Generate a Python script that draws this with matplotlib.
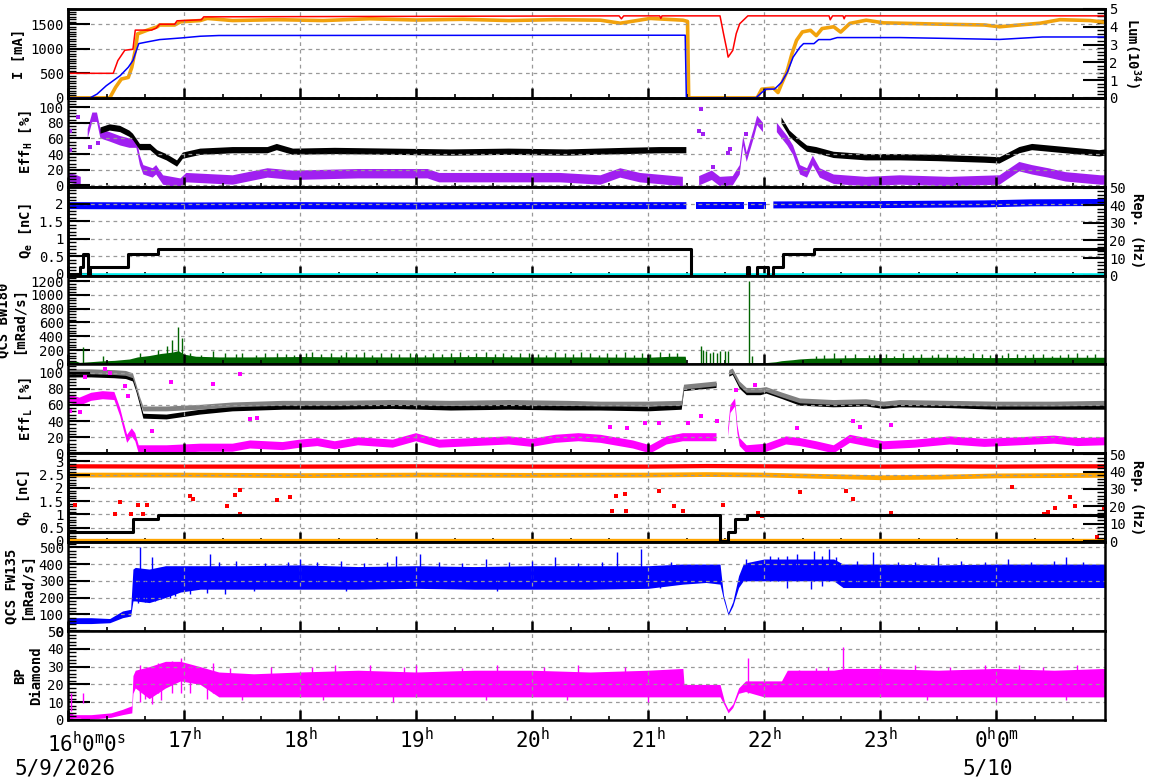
import numpy as np
import matplotlib
matplotlib.use('Agg')
import matplotlib.pyplot as plt
from matplotlib.ticker import MultipleLocator, FormatStrFormatter

plt.rcParams['font.family'] = ['DejaVu Sans Mono']
plt.rcParams['mathtext.fontset'] = 'custom'
plt.rcParams['mathtext.rm'] = 'DejaVu Sans Mono'
plt.rcParams['mathtext.it'] = 'DejaVu Sans Mono'
plt.rcParams['mathtext.bf'] = 'DejaVu Sans Mono:bold'
plt.rcParams['mathtext.default'] = 'rm'

nan = np.nan
T_END = 8.94  # hours after 16:00 on 5/9/2026

# ---- time axis labels
hour_ticks = [0, 1, 2, 3, 4, 5, 6, 7, 8]
hour_labels = ['', '17$^{h}$', '18$^{h}$', '19$^{h}$', '20$^{h}$', '21$^{h}$',
               '22$^{h}$', '23$^{h}$', '0$^{h}$0$^{m}$']

# ---- panel 1: beam currents (mA) and luminosity (1e34)
t_her = [0, 0.39, 0.43, 0.49, 0.56, 0.58, 0.72, 0.76, 0.79, 0.92, 0.94, 1.15, 1.17,
         4.75, 4.77, 4.79, 5.10, 5.11, 5.12, 5.62, 5.65, 5.68, 5.69, 5.73, 5.76, 5.79,
         5.86, 6.56, 6.57, 6.59, 6.68, 6.69, 6.70, 8.94]
i_her = [500, 500, 760, 970, 990, 1380, 1380, 1420, 1500, 1500, 1570, 1590, 1650,
         1670, 1610, 1670, 1670, 1620, 1670, 1670, 1310, 967, 830, 967, 1310, 1510,
         1670, 1670, 1590, 1670, 1670, 1610, 1670, 1670]

t_ler = [0, 0.19, 0.25, 0.33, 0.45, 0.52, 0.56, 0.61, 0.68, 0.79, 0.98, 1.14, 1.30,
         5.32, 5.33, 5.93, 5.98, 6.02, 6.09, 6.15, 6.20, 6.25, 6.31, 6.34, 6.43, 6.47,
         6.57, 6.63, 7.17, 7.6, 8.03, 8.4, 8.94]
i_ler = [0, 0, 76, 247, 453, 624, 761, 1105, 1138, 1187, 1221, 1255, 1270,
         1276, 0, 0, 110, 179, 179, 315, 521, 829, 1035, 1105, 1105, 1187,
         1187, 1228, 1228, 1210, 1190, 1240, 1240]

t_lum = [0, 0.36, 0.41, 0.46, 0.52, 0.55, 0.58, 0.60, 0.68, 0.77, 0.79, 0.92, 0.97,
         1.14, 1.20, 1.42, 1.8, 2.2, 2.6, 3.0, 3.4, 3.8, 4.2, 4.59, 4.76, 5.02, 5.30,
         5.34, 5.35, 5.94, 5.98, 6.08, 6.12, 6.15, 6.20, 6.24, 6.28, 6.33, 6.40, 6.45,
         6.50, 6.60, 6.66, 6.74, 6.88, 7.03, 7.17, 7.5, 7.9, 8.03, 8.2, 8.38, 8.55,
         8.81, 8.94]
lum = [0, 0, 0.59, 1.06, 1.15, 1.72, 2.67, 3.6, 3.8, 4.0, 4.1, 4.1, 4.28,
       4.35, 4.47, 4.35, 4.4, 4.35, 4.45, 4.38, 4.42, 4.35, 4.4, 4.37, 4.2, 4.47, 4.37,
       4.3, 0, 0, 0.49, 0.55, 0.3, 0.78, 1.53, 2.48, 3.24, 3.71, 3.8, 3.5,
       3.9, 4.0, 3.7, 4.19, 4.37, 4.22, 4.2, 4.15, 4.1, 4.0, 4.1, 4.2, 4.4,
       4.35, 4.25]

# ---- panel 2: Eff_H (%)
t_effh_k = [0.28, 0.36, 0.45, 0.53, 0.56, 0.62, 0.71, 0.77, 0.85, 0.94, 0.99, 1.14,
            1.42, 1.72, 1.80, 1.94, 2.3, 2.8, 3.3, 3.8, 4.3, 4.8, 5.1, 5.33, 5.34,
            6.15, 6.22, 6.31, 6.37, 6.45, 6.6, 6.88, 7.17, 7.5, 7.9, 8.03, 8.2, 8.31,
            8.6, 8.89, 8.94]
effh_k = [70, 74, 72, 66, 62, 49, 49, 41, 36, 28, 38, 43,
          45, 45, 49, 43, 44, 43, 42, 43, 42, 44, 45, 45, nan,
          83, 66, 54, 47, 45, 39, 36, 36, 35, 33, 32, 45, 49,
          45, 41, 42]
t_effh_p = [0, 0.06, 0.11, 0.12, 0.17, 0.21, 0.25, 0.28, 0.36, 0.45, 0.53, 0.59,
            0.62, 0.65, 0.73, 0.76, 0.82, 0.97, 1.02, 1.42, 1.72, 1.94, 2.5, 3.1,
            3.2, 3.7, 4.24, 4.59, 4.76, 4.93, 5.3, 5.33, 5.44, 5.55, 5.62, 5.73,
            5.79, 5.82, 5.85, 5.91, 5.94, 5.99, 6.03, 6.11, 6.2, 6.25, 6.31, 6.37,
            6.42, 6.48, 6.6, 6.88, 7.17, 7.6, 8.03, 8.2, 8.31, 8.45, 8.6, 8.9, 8.94]
effh_p = [10, 8, 5, nan, 66, 87, 87, 66, 62, 57, 54, 54,
          32, 20, 16, 20, 7, 3, 10, 7, 16, 13, 15, 15,
          10, 10, 10, 7, 16, 10, 5, nan, 6, 13, 5, 6,
          20, 57, 36, 66, 83, 74, nan, 74, 57, 45, 20, 16,
          32, 16, 8, 5, 7, 5, 7, 24, 20, 16, 11, 7, 7]
t_effh_p_out = [0.09, 0.02, 0.02, 0.19, 0.26, 5.44, 5.46, 5.47, 5.56, 5.69, 5.71, 5.84]
effh_p_out = [87, 70, 45, 49, 54, 70, 98, 66, 24, 41, 47, 66]

# ---- panel 3: Q_e (nC) and rep. rate (Hz)
t_qe = [0, 1.0, 2.0, 3.0, 4.0, 5.0, 5.33, 5.37, 5.41, 5.83, 5.845, 5.86, 6.02,
        6.05, 6.08, 7.0, 7.9, 8.3, 8.94]
qe = [1.95, 1.94, 1.95, 1.94, 1.95, 1.95, 1.95, nan, 1.96, 1.96, nan, 1.96, 1.96,
      nan, 1.97, 1.98, 2.0, 2.03, 2.04]
t_qe_ref = [0, 8.94]
qe_ref = [-0.02, -0.02]
t_rep_e = [0.0, 0.10, 0.13, 0.175, 0.19, 0.52, 0.78, 5.37, 5.85, 5.87, 5.94, 6.03,
           6.08, 6.16, 6.43, 8.94]
rep_e = [1, 5, 12.5, 0, 5, 12.5, 15, 0, 5, 0, 5, 0, 5, 12.5, 15, 15]

# ---- panel 4: QCS BW180 (mRad/s)
t_bw = [0, 0.07, 0.10, 0.19, 0.27, 0.40, 0.53, 0.6, 0.7, 0.8, 0.9, 0.95, 1.0, 1.1,
        1.3, 1.6, 2.0, 2.5, 3.0, 3.5, 4.0, 4.5, 5.0, 5.2, 5.32, 5.33, 5.5, 5.8, 6.0,
        6.1, 6.15, 6.25, 6.3, 6.4, 6.6, 6.8, 7.0, 7.5, 8.0, 8.5, 8.94]
bw = [40, 40, 20, 30, 40, 50, 70, 100, 120, 150, 170, 190, 140, 110,
      100, 100, 105, 100, 100, 105, 100, 100, 95, 110, 110, 5, 10, 10, 15,
      30, 45, 60, 70, 80, 85, 90, 90, 95, 90, 95, 95]
t_bw_spk = [0.13, 0.30, 0.62, 0.78, 0.85, 0.90, 0.95, 0.98, 1.25, 1.5, 1.8, 2.1,
            2.4, 2.7, 3.0, 3.3, 3.6, 3.9, 4.2, 4.5, 4.8, 5.1, 5.46, 5.47, 5.50,
            5.53, 5.56, 5.59, 5.62, 5.66, 5.69, 5.87, 5.90, 6.6, 6.9, 7.2, 7.5,
            7.8, 8.1, 8.4, 8.7]
bw_spk = [240, 110, 150, 200, 260, 350, 540, 380, 180, 160, 150, 170,
          165, 150, 160, 150, 165, 160, 170, 155, 165, 170, 256, 200, 180,
          150, 170, 150, 190, 180, 180, 1200, 120, 150, 130, 150, 140,
          160, 150, 145, 160]
t_bw_grass = [1.05, 1.15, 1.35, 1.45, 1.62, 1.70, 1.88, 1.95, 2.05, 2.18,
              2.27, 2.35, 2.48, 2.55, 2.62, 2.78, 2.85, 2.95, 3.08, 3.15,
              3.22, 3.38, 3.45, 3.52, 3.68, 3.75, 3.82, 3.97, 4.05, 4.12,
              4.28, 4.35, 4.42, 4.58, 4.65, 4.72, 4.88, 4.95, 5.02, 5.18,
              5.25, 6.45, 6.52, 6.70, 6.78, 6.95, 7.05, 7.12, 7.28, 7.35,
              7.45, 7.58, 7.65, 7.72, 7.88, 7.95, 8.05, 8.18, 8.25, 8.32,
              8.48, 8.55, 8.62, 8.78, 8.85]
bw_grass = [150, 135, 160, 140, 130, 155, 145, 135, 160, 140,
            150, 130, 145, 165, 135, 150, 140, 160, 135, 150,
            145, 165, 130, 150, 140, 155, 135, 160, 145, 130,
            150, 140, 165, 135, 150, 145, 130, 160, 140, 155,
            150, 120, 130, 125, 140, 130, 145, 120, 135, 140,
            125, 145, 130, 120, 140, 135, 125, 145, 130, 140,
            120, 135, 145, 130, 140]

# ---- panel 5: Eff_L (%)
t_effl = [0, 0.2, 0.4, 0.50, 0.56, 0.59, 0.62, 0.65, 0.85, 1.14, 1.42, 1.85, 2.3,
          2.8, 3.3, 3.8, 4.3, 4.59, 5.0, 5.29, 5.31, 5.45, 5.59, 5.63, 5.70, 5.73,
          5.79, 5.85, 5.97, 6.02, 6.16, 6.31, 6.6, 6.88, 7.03, 7.17, 7.6, 8.0, 8.5,
          8.94]
effl_k = [97, 97, 96, 95, 92, 79, 63, 46, 45, 51, 55, 57, 57,
          58, 56, 57, 56, 56, 55, 57, 80, 82, 84, nan, 98, 100,
          83, 75, 75, 77, 70, 62, 60, 61, 58, 60, 59, 57, 57, 57]
effl_g = [101, 101, 100, 99, 96, 82, 67, 55, 55, 57, 60, 62, 62,
          63, 62, 63, 62, 61, 61, 62, 82, 84, 86, nan, 100, 102,
          86, 78, 78, 79, 72, 65, 63, 64, 61, 63, 62, 61, 61, 62]
t_effl_m = [0, 0.1, 0.2, 0.3, 0.40, 0.45, 0.48, 0.51, 0.55, 0.58, 0.61, 0.85, 1.14,
            1.42, 1.57, 1.85, 2.0, 2.15, 2.3, 2.5, 2.8, 3.0, 3.2, 3.5, 3.8, 4.0,
            4.2, 4.4, 4.59, 4.87, 5.02, 5.16, 5.3, 5.45, 5.59, 5.62, 5.69, 5.71,
            5.75, 5.77, 5.79, 5.85, 6.02, 6.19, 6.31, 6.45, 6.6, 6.74, 6.88, 7.03,
            7.3, 7.6, 7.9, 8.2, 8.5, 8.7, 8.94]
effl_m = [68, 64, 70, 72, 71, 51, 34, 18, 26, 20, 5, 5, 7,
          7, 11, 9, 12, 14, 10, 15, 12, 20, 12, 14, 16, 13,
          18, 20, 18, 11, 5, 16, 20, 20, 20, nan, 26, 55,
          63, 30, 14, 5, 7, 16, 14, 10, 5, 18, 14, 10,
          12, 16, 13, 15, 17, 14, 15]
t_effl_m_out = [0.02, 0.15, 0.10, 0.32, 0.36, 0.49, 0.52, 0.72, 0.89, 1.25, 1.48,
                1.57, 1.63, 4.67, 4.82, 4.97, 5.09, 5.34, 5.46, 5.59, 5.76, 5.92,
                6.28, 6.77, 6.83, 7.09]
effl_m_out = [53, 94, 51, 104, 100, 83, 71, 28, 88, 86, 98,
              42, 44, 33, 31, 37, 37, 38, 46, 40, 79, 84,
              31, 40, 33, 35]

# ---- panel 6: Q_p (nC) and rep. rate (Hz)
t_qp = [0, 1.0, 2.0, 3.0, 4.0, 5.0, 5.5, 6.0, 6.5, 7.0, 7.5, 8.0, 8.5, 8.94]
qp_1 = [2.83, 2.82, 2.82, 2.83, 2.82, 2.82, 2.84, 2.83, 2.82, 2.82, 2.83, 2.82, 2.83, 2.83]
qp_2 = [2.50, 2.50, 2.48, 2.50, 2.49, 2.50, 2.52, 2.50, 2.45, 2.40, 2.42, 2.47, 2.48, 2.49]
qp_3 = [0.05, 0.05, 0.05, 0.05, 0.05, 0.05, 0.05, 0.05, 0.05, 0.05, 0.05, 0.05, 0.05, 0.05]
t_qp_out = [0.0, 0.06, 0.405, 0.448, 0.54, 0.606, 0.647, 0.678, 1.05, 1.08,
            1.37, 1.44, 1.48, 1.48, 1.8, 1.91, 4.69, 4.72, 4.80, 4.81,
            5.09, 5.22, 5.30, 5.65, 5.95, 5.98, 6.31, 6.71, 6.77, 7.09,
            8.14, 8.41, 8.45, 8.51, 8.64, 8.68, 8.87, 8.93]
qp_out = [1.32, 1.37, 1.0, 1.47, 1.0, 1.35, 1.0, 1.35, 1.69, 1.57,
          1.3, 1.74, 1.92, 1.03, 1.54, 1.65, 1.13, 1.69, 1.75, 1.13,
          1.88, 1.33, 1.13, 1.35, 1.06, 0.95, 1.84, 1.9, 1.58, 1.06,
          2.03, 1.03, 1.09, 1.25, 1.65, 1.32, 0.13, 1.2]
t_rep_p = [0, 0.56, 0.78, 5.62, 5.69, 5.75, 5.85, 8.94]
rep_p = [5, 12.5, 15, 0, 5, 12.5, 15, 15]

# ---- panel 7: QCS FW135 (mRad/s)
t_fw = [0, 0.20, 0.36, 0.47, 0.54, 0.56, 0.58, 0.70, 0.84, 0.97, 1.14, 1.5, 2.0,
        2.5, 3.0, 3.5, 4.0, 4.5, 5.0, 5.3, 5.5, 5.62, 5.65, 5.69, 5.73, 5.78, 5.82,
        5.86, 6.0, 6.3, 6.6, 6.68, 6.72, 7.0, 7.5, 8.0, 8.5, 8.94]
fw_lo = [45, 45, 50, 80, 90, 180, 180, 170, 200, 233, 250, 250, 250,
         250, 255, 250, 250, 250, 255, 280, 290, 280, 190, 95, 150, 260, 300,
         300, 300, 300, 300, 260, 260, 260, 260, 260, 260, 260]
fw_hi = [80, 80, 75, 120, 130, 370, 380, 370, 390, 390, 390, 390, 395,
         385, 390, 385, 390, 390, 390, 400, 400, 400, 215, 110, 175, 330, 400,
         410, 430, 430, 430, 400, 400, 400, 395, 400, 400, 400]
t_fw_spk = [0.62, 0.72, 1.22, 2.0, 2.83, 3.03, 3.6, 4.2, 4.73, 4.94, 5.84, 6.2,
            6.43, 6.56, 6.94, 7.5, 8.1, 8.6, 1.3, 1.45, 1.7, 1.9, 2.15, 2.35,
            2.55, 2.75, 3.2, 3.4, 3.8, 4.0, 4.4, 4.6, 5.2, 6.05, 6.12, 6.28,
            6.5, 6.62, 6.8, 7.15, 7.3, 7.7, 7.9, 8.3, 8.5, 8.75]
fw_spk = [500, 440, 460, 430, 450, 460, 430, 440, 470, 490, 430, 450,
          480, 490, 470, 440, 430, 440, 410, 420, 405, 415, 410, 420,
          405, 410, 415, 405, 410, 420, 405, 415, 410, 450, 440, 460,
          450, 440, 420, 415, 410, 420, 410, 415, 420, 410]
t_fw_dn = [0.60, 0.66, 0.75, 0.80, 0.88, 0.92, 1.05, 1.2, 1.35, 1.6, 2.4, 3.7,
           5.1, 6.2, 6.4, 6.5]
fw_dn = [170, 175, 180, 190, 200, 210, 220, 230, 220, 240, 240, 240,
         260, 260, 250, 270]

# ---- panel 8: BP diamond
t_bp = [0, 0.05, 0.10, 0.15, 0.20, 0.37, 0.47, 0.55, 0.56, 0.58, 0.70, 0.84, 0.97,
        1.14, 1.3, 1.6, 2.0, 2.5, 3.0, 3.5, 4.0, 4.5, 5.0, 5.30, 5.31, 5.62, 5.66,
        5.69, 5.73, 5.78, 5.84, 6.0, 6.15, 6.2, 6.6, 6.7, 7.0, 7.5, 8.0, 8.5, 8.94]
bp_lo = [0.5, 1, 1, 0.5, 0.5, 1.5, 3, 4, 15, 18, 12, 18, 22,
         20, 13, 13, 13, 13, 13, 13, 13, 13, 13, 13, 13, 13, 8,
         4, 7, 15, 16, 13, 13, 13, 13, 13, 13, 13, 13, 13, 13]
bp_hi = [5, 3, 3, 3, 3, 4, 6, 8, 25, 28, 30, 33, 33,
         30, 27, 26, 27, 28, 27, 28, 28, 27, 28, 29, 20, 20, 10,
         6, 9, 18, 22, 22, 22, 28, 28, 29, 29, 28, 29, 28, 29]
t_bp_spk = [0.03, 0.13, 0.97, 1.25, 2.3, 3.0, 5.86, 6.68, 7.3, 8.2, 0.62, 0.68,
            0.78, 0.9, 1.05, 1.4, 1.75, 2.1, 2.6, 2.9, 3.4, 3.7, 4.1, 4.4, 4.8,
            6.3, 6.45, 6.55, 7.0, 7.6, 7.9, 8.4, 8.7]
bp_spk = [5, 9.4, 35, 32, 31, 31, 35, 41, 31, 31, 31, 30,
          32, 33, 31, 29, 30, 30, 31, 30, 29, 31, 30, 31, 30,
          28, 29, 30, 31, 30, 31, 30, 31]
t_bp_dn = [0.62, 0.66, 0.72, 0.8, 1.2, 1.5, 2.2, 2.8, 3.6, 4.3, 5.0, 7.4, 8.0, 8.6]
bp_dn = [10, 12, 9, 11, 12, 11, 11, 10, 11, 11, 10, 11, 10, 11]


def style_y(ax, ylim, major, minor):
    ax.set_ylim(*ylim)
    ax.yaxis.set_major_locator(MultipleLocator(major))
    ax.yaxis.set_minor_locator(MultipleLocator(minor))
    ax.yaxis.set_major_formatter(FormatStrFormatter('%g'))
    ax.tick_params(axis='y', which='major', direction='in', length=16, width=1.5,
                   labelsize=10, pad=3)
    ax.tick_params(axis='y', which='minor', direction='in', length=6, width=1)
    for s in ax.spines.values():
        s.set_linewidth(1.8)


def band(ax, t, lo, hi, color):
    ax.fill_between(t, lo, hi, color=color, lw=0)


fig, axes = plt.subplots(8, 1, figsize=(11.72, 7.82), dpi=100, sharex=True)
fig.subplots_adjust(left=0.058, right=0.943, top=0.9885, bottom=0.0793, hspace=0)

for ax in axes:
    ax.set_xlim(0, T_END)
    ax.xaxis.set_major_locator(MultipleLocator(1))
    ax.xaxis.set_minor_locator(MultipleLocator(1 / 3))
    ax.tick_params(axis='x', which='major', direction='in', length=7, width=1.8)
    ax.tick_params(axis='x', which='minor', direction='in', length=3, width=1.2)
    ax.tick_params(axis='y', right=False, which='both')
    ax.grid(True, which='major', color='#999999', ls=(0, (3, 3)), lw=0.9)

ylab = dict(fontsize=10, fontweight='bold', labelpad=3)
rlab = dict(fontsize=10, fontweight='bold', rotation=270, va='bottom', labelpad=3)

# panel 1
ax = axes[0]
ax2 = ax.twinx()
ax2.plot(t_lum, lum, color='#f2a20c', lw=2.6)
ax.plot(t_her, i_her, color='#ff0000', lw=1.1)
ax.plot(t_ler, i_ler, color='#0000ff', lw=1.1)
ax.set_zorder(2)
ax.patch.set_visible(False)
style_y(ax, (0, 1810), 500, 50)
style_y(ax2, (0, 5), 1, 0.2)
ax.set_ylabel('I [mA]', **ylab)
ax2.set_ylabel('Lum(10$^{\\mathbf{34}}$)', **rlab)

# panel 2
ax = axes[1]
band(ax, t_effh_p, np.array(effh_p) - 6, np.array(effh_p) + 6, '#a020f0')
ax.plot(t_effh_p_out, effh_p_out, 's', color='#a020f0', ms=2.2, mew=0)
band(ax, t_effh_k, np.array(effh_k) - 4, np.array(effh_k) + 4, '#000000')
style_y(ax, (-1.6, 111.7), 20, 4)
ax.set_ylabel('Eff$_{\\mathbf{H}}$ [%]', **ylab)

# panel 3
ax = axes[2]
ax2 = ax.twinx()
band(ax, t_qe, np.array(qe) - 0.1, np.array(qe) + 0.1, '#0000ff')
ax.plot(t_qe_ref, qe_ref, color='#00eeee', lw=2.6)
ax2.plot(t_rep_e, rep_e, color='black', lw=2.2, drawstyle='steps-post')
style_y(ax, (-0.05, 2.49), 0.5, 0.1)
style_y(ax2, (0, 50.5), 10, 2)
ax.set_ylabel('Q$_{\\mathbf{e}}$ [nC]', **ylab)
ax2.set_ylabel('Rep. (Hz)', **rlab)

# panel 4
ax = axes[3]
ax.fill_between(t_bw, 0, bw, color='#006400', lw=0)
ax.vlines(t_bw_grass, 0, bw_grass, color='#006400', lw=1)
ax.vlines(t_bw_spk, 0, bw_spk, color='#006400', lw=1)
style_y(ax, (-10, 1280), 200, 40)
ax.set_ylabel('QCS BW180\n[mRad/s]', **ylab)

# panel 5
ax = axes[4]
band(ax, t_effl_m, np.array(effl_m) - 5, np.array(effl_m) + 5, '#ff00ff')
ax.plot(t_effl_m_out, effl_m_out, 's', color='#ff00ff', ms=2.2, mew=0)
band(ax, t_effl, np.array(effl_k) - 3, np.array(effl_k) + 3, '#000000')
band(ax, t_effl, np.array(effl_g) - 3, np.array(effl_g) + 3, '#808080')
style_y(ax, (0, 110), 20, 4)
ax.set_ylabel('Eff$_{\\mathbf{L}}$ [%]', **ylab)

# panel 6
ax = axes[5]
ax2 = ax.twinx()
band(ax, t_qp, np.array(qp_1) - 0.08, np.array(qp_1) + 0.08, '#ff0000')
band(ax, t_qp, np.array(qp_2) - 0.09, np.array(qp_2) + 0.09, '#ffa500')
ax.plot(t_qp, qp_3, color='#ffa500', lw=2.4)
ax.plot(t_qp_out, qp_out, 's', color='#ff0000', ms=2.2, mew=0)
ax2.plot(t_rep_p, rep_p, color='black', lw=2.2, drawstyle='steps-post')
style_y(ax, (-0.05, 3.3), 0.5, 0.1)
style_y(ax2, (-0.7, 50.5), 10, 2)
ax.set_ylabel('Q$_{\\mathbf{p}}$ [nC]', **ylab)
ax2.set_ylabel('Rep. (Hz)', **rlab)

# panel 7
ax = axes[6]
band(ax, t_fw, fw_lo, fw_hi, '#0000ff')
ax.vlines(t_fw_spk, 300, fw_spk, color='#0000ff', lw=1)
ax.vlines(t_fw_dn, fw_dn, 300, color='#0000ff', lw=1)
style_y(ax, (0, 530), 100, 20)
ax.set_ylabel('QCS FW135\n[mRad/s]', **ylab)

# panel 8
ax = axes[7]
band(ax, t_bp, bp_lo, bp_hi, '#ff00ff')
ax.vlines(t_bp_spk, 15, bp_spk, color='#ff00ff', lw=1)
ax.vlines(t_bp_dn, bp_dn, 20, color='#ff00ff', lw=1)
style_y(ax, (0, 50), 10, 2)
ax.set_ylabel('BP\nDiamond', **ylab)

ax.set_xticks(hour_ticks)
ax.set_xticklabels(hour_labels)
ax.tick_params(axis='x', labelsize=15, pad=5)

fig.text(47 / 1172, 1 - 752 / 782, '16$^{h}$0$^{m}$0$^{s}$', fontsize=15,
         ha='left', va='baseline')
fig.text(15 / 1172, 1 - 768 / 782, '5/9/2026', fontsize=15, ha='left', va='center')
fig.text(988 / 1172, 1 - 768 / 782, '5/10', fontsize=15, ha='center', va='center')

fig.savefig('out.png', dpi=100)
